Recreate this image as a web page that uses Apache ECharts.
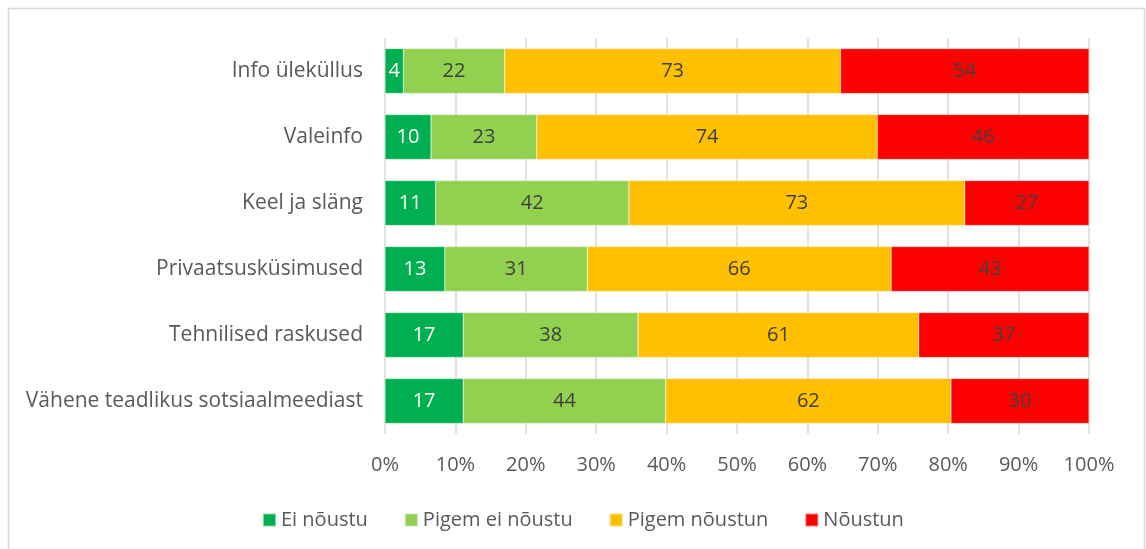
<!DOCTYPE html>
<html>
<head>
<meta charset="utf-8">
<script src="https://cdn.jsdelivr.net/npm/echarts@6/dist/echarts.min.js"></script>
<style>
  html, body { margin: 0; padding: 0; background: #fff; }
  #chart { width: 1146px; height: 549px; }
</style>
</head>
<body>
<div id="chart"></div>
<script>
const categories = [
  "Info üleküllus",
  "Valeinfo",
  "Keel ja släng",
  "Privaatsusküsimused",
  "Tehnilised raskused",
  "Vähene teadlikus sotsiaalmeediast"
];
const seriesNames = ["Ei nõustu", "Pigem ei nõustu", "Pigem nõustun", "Nõustun"];
const eiNoustu = [4, 10, 11, 13, 17, 17];
const pigemEiNoustu = [22, 23, 42, 31, 38, 44];
const pigemNoustun = [73, 74, 73, 66, 61, 62];
const noustun = [54, 46, 27, 43, 37, 30];
const tickLabels = ["0%", "10%", "20%", "30%", "40%", "50%", "60%", "70%", "80%", "90%", "100%"];

const colors = ["#00B050", "#92D050", "#FFC000", "#FF0000"];
const labelColors = ["#ffffff", "#404040", "#404040", "#404040"];
const font = "Open Sans";

const raw = [eiNoustu, pigemEiNoustu, pigemNoustun, noustun];
const totals = categories.map((_, i) => raw.reduce((s, arr) => s + arr[i], 0));

const chart = echarts.init(document.getElementById("chart"));

const series = raw.map((arr, k) => ({
  name: seriesNames[k],
  type: "bar",
  stack: "total",
  barWidth: "68%",
  data: arr.map((v, i) => ({ value: v / totals[i] * 100, count: v })),
  itemStyle: { color: colors[k], borderColor: "rgba(255,255,255,0.5)", borderWidth: 0.5 },
  label: {
    show: true,
    position: "inside",
    color: labelColors[k],
    fontFamily: font,
    fontSize: 20,
    formatter: p => p.data.count
  }
}));

chart.setOption({
  animation: false,
  color: colors,
  grid: { left: 385, right: 57, top: 38, bottom: 115 },
  xAxis: {
    type: "value",
    min: 0,
    max: 100,
    interval: 10,
    axisLine: { show: false },
    axisTick: { show: false },
    splitLine: { show: true, lineStyle: { color: "#d9d9d9", width: 1.5 } },
    axisLabel: {
      color: "#595959",
      fontFamily: font,
      fontSize: 20,
      margin: 21,
      formatter: v => tickLabels[Math.round(v / 10)]
    }
  },
  yAxis: {
    type: "category",
    inverse: true,
    data: categories,
    axisLine: { show: false },
    axisTick: { show: false },
    axisLabel: { color: "#595959", fontFamily: font, fontSize: 21, margin: 22 }
  },
  legend: {
    bottom: 14,
    left: 257,
    itemWidth: 13,
    itemHeight: 13,
    itemGap: 36,
    icon: "rect",
    textStyle: { color: "#595959", fontFamily: font, fontSize: 20 },
    data: seriesNames
  },
  graphic: [{
    type: "rect",
    shape: { x: 8.5, y: 8.5, width: 1136, height: 560 },
    style: { fill: "none", stroke: "#d9d9d9", lineWidth: 1.5 },
    silent: true
  }],
  series
});
</script>
</body>
</html>
